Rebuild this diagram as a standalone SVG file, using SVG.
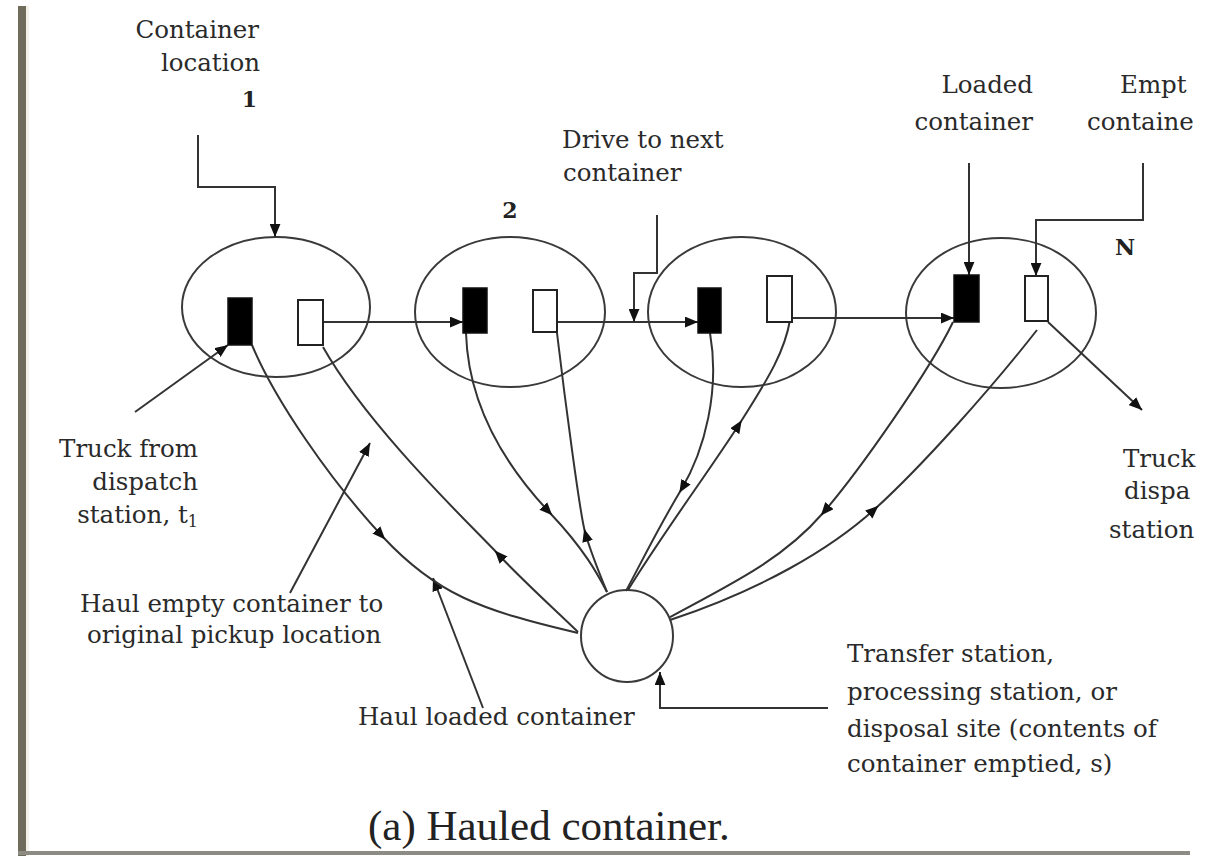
<svg xmlns="http://www.w3.org/2000/svg" width="1206" height="856" viewBox="0 0 1206 856">
<defs>
<style>
.lbl{font-family:"DejaVu Serif","Liberation Serif",serif;font-size:24.5px;fill:#2a2a2a}
.num{font-family:"DejaVu Serif","Liberation Serif",serif;font-size:22px;font-weight:bold;fill:#222}
.cap{font-family:"Liberation Serif","Times New Roman",serif;font-size:43px;fill:#222}
.loc{fill:none;stroke:#3a3a3a;stroke-width:2}
.ln{fill:none;stroke:#333;stroke-width:2}
.full{fill:#000;stroke:#111;stroke-width:1.5}
.empty{fill:#fff;stroke:#222;stroke-width:2}
</style>
<marker id="ae" viewBox="0 0 12 10" refX="12" refY="5" markerWidth="13" markerHeight="11" markerUnits="userSpaceOnUse" orient="auto"><path d="M0,0 L12,5 L0,10 Z" fill="#111"/></marker>
<marker id="am" viewBox="0 0 12 10" refX="9" refY="5" markerWidth="13" markerHeight="11" markerUnits="userSpaceOnUse" orient="auto"><path d="M0,0 L12,5 L0,10 Z" fill="#111"/></marker>
</defs>
<rect x="0" y="0" width="1206" height="856" fill="#fff"/>
<g id="frame">
<rect x="18" y="6" width="8" height="850" fill="#706c5c"/>
<rect x="26" y="6" width="3" height="850" fill="#f4f2e6"/>
<rect x="18" y="851" width="1172" height="4" fill="#8c8c84"/>
</g>
<g id="loc1"><ellipse class="loc" cx="276" cy="307" rx="94" ry="70"/></g>
<g id="loc2"><ellipse class="loc" cx="510" cy="312" rx="95" ry="75"/></g>
<g id="loc3"><ellipse class="loc" cx="742" cy="312" rx="94" ry="75"/></g>
<g id="locN"><ellipse class="loc" cx="1001" cy="313" rx="95" ry="75"/></g>
<g id="site"><circle class="loc" cx="627" cy="636" r="46" fill="#fff"/></g>
<g id="connectors">
<path class="ln" d="M323,322 L463,322" marker-end="url(#ae)"/>
<path class="ln" d="M557,322 L698,322" marker-end="url(#ae)"/>
<path class="ln" d="M767,318 L954,318" marker-end="url(#ae)"/>
<path class="ln" d="M198,135 L198,187 L275,187 L275,237" marker-end="url(#ae)"/>
<path class="ln" d="M657,215 L657,273 L634,273 L634,322" marker-end="url(#ae)"/>
<path class="ln" d="M969,163 L969,275" marker-end="url(#ae)"/>
<path class="ln" d="M1143,163 L1143,220 L1036,220 L1036,276" marker-end="url(#ae)"/>
<path class="ln" d="M828,708 L660,708 L660,672" marker-end="url(#ae)"/>
<path class="ln" d="M135,412 L228,345" marker-end="url(#ae)"/>
<path class="ln" d="M1048,322 L1142,410" marker-end="url(#ae)"/>
<path class="ln" d="M290,593 L370,443" marker-end="url(#ae)"/>
<path class="ln" d="M483,708 L433,578" marker-end="url(#ae)"/>
<path class="ln" d="M252,345 C275,400 330,480 383,537 S480,610 578,633" marker-mid="url(#am)"/>
<path class="ln" d="M578,632 C550,605 520,578 497,553 S370,430 323,347" marker-mid="url(#am)"/>
<path class="ln" d="M466,333 C468,400 500,460 550,513 C585,550 598,575 607,592" marker-mid="url(#am)"/>
<path class="ln" d="M607,592 C600,575 590,550 585,532 S565,400 557,333" marker-mid="url(#am)"/>
<path class="ln" d="M710,333 C720,390 705,450 681,490 S640,565 626,591" marker-mid="url(#am)"/>
<path class="ln" d="M628,590 C665,530 710,470 740,423 S785,350 790,320" marker-mid="url(#am)"/>
<path class="ln" d="M953,322 C930,370 860,470 823,513 C786,556 740,580 670,617" marker-mid="url(#am)"/>
<path class="ln" d="M670,620 C760,590 830,550 876,508 S990,390 1037,330" marker-mid="url(#am)"/>
</g>
<g id="containers">
<rect class="full" x="228" y="298" width="24" height="47"/>
<rect class="empty" x="298" y="300" width="25" height="45"/>
<rect class="full" x="463" y="288" width="24" height="45"/>
<rect class="empty" x="533" y="290" width="24" height="42"/>
<rect class="full" x="698" y="288" width="23" height="45"/>
<rect class="empty" x="767" y="276" width="25" height="46"/>
<rect class="full" x="954" y="275" width="25" height="47"/>
<rect class="empty" x="1025" y="276" width="23" height="45"/>
</g>
<g id="labels">
<text class="lbl" x="259" y="38" text-anchor="end">Container</text>
<text class="lbl" x="260" y="71" text-anchor="end">location</text>
<text class="num" x="257" y="107" text-anchor="end">1</text>
<text class="num" x="510" y="218" text-anchor="middle">2</text>
<text class="num" x="1125" y="255" text-anchor="middle">N</text>
<text class="lbl" x="562" y="148">Drive to next</text>
<text class="lbl" x="563" y="181">container</text>
<text class="lbl" x="1033" y="93" text-anchor="end">Loaded</text>
<text class="lbl" x="1033" y="130" text-anchor="end">container</text>
<text class="lbl" x="1120" y="93">Empt</text>
<text class="lbl" x="1087" y="130">containe</text>
<text class="lbl" x="1123" y="467">Truck</text>
<text class="lbl" x="1124" y="499">dispa</text>
<text class="lbl" x="1109" y="538">station</text>
<text class="lbl" x="198" y="457" text-anchor="end">Truck from</text>
<text class="lbl" x="198" y="490" text-anchor="end">dispatch</text>
<text class="lbl" x="198" y="523" text-anchor="end">station, t<tspan font-size="16" dy="4">1</tspan></text>
<text class="lbl" x="80" y="612">Haul empty container to</text>
<text class="lbl" x="87" y="643">original pickup location</text>
<text class="lbl" x="358" y="725">Haul loaded container</text>
<text class="lbl" x="847" y="662">Transfer station,</text>
<text class="lbl" x="847" y="700">processing station, or</text>
<text class="lbl" x="847" y="737">disposal site (contents of</text>
<text class="lbl" x="847" y="772">container emptied, s)</text>
<text class="cap" x="368" y="840">(a) Hauled container.</text>
</g>
</svg>
